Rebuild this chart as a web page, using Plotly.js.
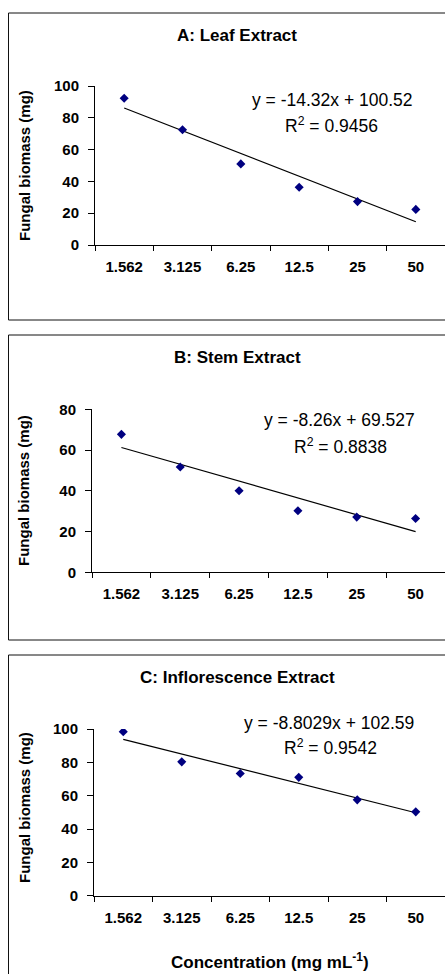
<!DOCTYPE html>
<html>
<head>
<meta charset="utf-8">
<script src="https://cdn.plot.ly/plotly-3.0.1.min.js"></script>
<style>
html,body{margin:0;padding:0;background:#fff;}
#chart{width:445px;height:974px;}
</style>
</head>
<body>
<div id="chart"></div>
<script>
// ---- Data ----
const concentrations = ["1.562", "3.125", "6.25", "12.5", "25", "50"];
const leafBiomass = [92.3, 72.5, 51, 36.3, 27.3, 22.4];
const stemBiomass = [67.7, 51.7, 40, 30.2, 27.1, 26.4];
const inflorescenceBiomass = [98.4, 80.3, 73.3, 71, 57.5, 50.3];
const panelTitles = ["A: Leaf Extract", "B: Stem Extract", "C: Inflorescence Extract"];
const trendSlopes = [-14.32, -8.26, -8.8029];
const trendIntercepts = [100.52, 69.527, 102.59];
const trendEquations = ["y = -14.32x + 100.52", "y = -8.26x + 69.527", "y = -8.8029x + 102.59"];
const rSquaredLabels = ["R<sup>2</sup> = 0.9456", "R<sup>2</sup> = 0.8838", "R<sup>2</sup> = 0.9542"];
const yTickValues = [[0, 20, 40, 60, 80, 100], [0, 20, 40, 60, 80], [0, 20, 40, 60, 80, 100]];
const yAxisMax = [100, 80, 100];
const yAxisLabel = "Fungal biomass (mg)";
const xAxisLabel = "Concentration (mg mL<sup>-1</sup>)";

// ---- Layout helpers (pixel -> paper) ----
const W = 445, H = 974;
const px = x => x / W;
const py = y => 1 - y / H;

const seriesList = [leafBiomass, stemBiomass, inflorescenceBiomass];

// panel geometry in pixels
const panels = [
  {x0: 95, x1: 445, yTop: 86, yBot: 245, boxTop: 13, boxBot: 320, titleY: 35, ytitleY: 166, eqX: 332, eqY: 100, r2X: 331, r2Y: 125},
  {x0: 92, x1: 445, yTop: 409.3, yBot: 572.3, boxTop: 335, boxBot: 640, titleY: 357, ytitleY: 491, eqX: 339, eqY: 420, r2X: 340, r2Y: 446},
  {x0: 94, x1: 445, yTop: 729, yBot: 895.7, boxTop: 655, boxBot: 1000, titleY: 677, ytitleY: 808, eqX: 329, eqY: 723, r2X: 330, r2Y: 747}
];

const FONT = "Liberation Sans, Arial, Helvetica, sans-serif";
const traces = [];
const layout = {
  width: W, height: H,
  margin: {l: 0, r: 0, t: 0, b: 0},
  paper_bgcolor: "#ffffff",
  plot_bgcolor: "rgba(0,0,0,0)",
  showlegend: false,
  font: {family: FONT, color: "#000"},
  annotations: [],
  shapes: []
};

panels.forEach((p, i) => {
  const n = i === 0 ? "" : String(i + 1);
  const xa = "x" + n, ya = "y" + n;
  const data = seriesList[i];
  // trendline from the displayed regression equation (x = 1..6)
  const trendY = concentrations.map((c, k) => trendSlopes[i] * (k + 1) + trendIntercepts[i]);
  traces.push({
    type: "scatter", mode: "lines", x: concentrations, y: trendY,
    xaxis: xa, yaxis: ya, line: {color: "#000", width: 1.2}, hoverinfo: "skip"
  });
  traces.push({
    type: "scatter", mode: "markers", x: concentrations, y: data,
    xaxis: xa, yaxis: ya,
    marker: {symbol: "diamond", size: 7, color: "#000080", line: {width: 0}}
  });

  layout["xaxis" + n] = {
    type: "category", domain: [px(p.x0), px(p.x1)], anchor: ya,
    range: [-0.5, 5.5], tickson: "boundaries",
    showline: true, linecolor: "#000", linewidth: 1,
    ticks: "outside", ticklen: 5, tickcolor: "#000", tickwidth: 1,
    showgrid: false, zeroline: false,
    ticklabelstandoff: 8,
    tickfont: {family: FONT, size: 15, color: "#000", weight: "bold"},
    fixedrange: true
  };
  layout["yaxis" + n] = {
    domain: [py(p.yBot), py(p.yTop)], anchor: xa,
    range: [0, yAxisMax[i]], tickvals: yTickValues[i],
    showline: true, linecolor: "#000", linewidth: 1,
    ticks: "outside", ticklen: 6, tickcolor: "#000", tickwidth: 1,
    showgrid: false, zeroline: false,
    ticklabelstandoff: 6,
    tickfont: {family: FONT, size: 15, color: "#000", weight: "bold"},
    fixedrange: true
  };

  // panel box
  layout.shapes.push({
    type: "rect", xref: "paper", yref: "paper",
    x0: px(8.5), x1: px(460), y0: py(p.boxBot), y1: py(p.boxTop),
    line: {color: "#111", width: 1}, fillcolor: "rgba(0,0,0,0)", layer: "below"
  });

  layout.annotations.push({
    xref: "paper", yref: "paper", x: px(237), y: py(p.titleY),
    text: "<b>" + panelTitles[i] + "</b>", showarrow: false,
    xanchor: "center", yanchor: "middle",
    font: {family: FONT, size: 17, color: "#000"}
  });
  layout.annotations.push({
    xref: "paper", yref: "paper", x: px(24), y: py(p.ytitleY),
    text: "<b>" + yAxisLabel + "</b>", showarrow: false, textangle: -90,
    xanchor: "center", yanchor: "middle",
    font: {family: FONT, size: 15, color: "#000"}
  });
  layout.annotations.push({
    xref: "paper", yref: "paper", x: px(p.eqX), y: py(p.eqY),
    text: trendEquations[i], showarrow: false,
    xanchor: "center", yanchor: "middle",
    font: {family: FONT, size: 17.5, color: "#000"}
  });
  layout.annotations.push({
    xref: "paper", yref: "paper", x: px(p.r2X), y: py(p.r2Y),
    text: rSquaredLabels[i], showarrow: false,
    xanchor: "center", yanchor: "middle",
    font: {family: FONT, size: 17.5, color: "#000"}
  });
});

layout.annotations.push({
  xref: "paper", yref: "paper", x: px(270), y: py(961),
  text: "<b>" + xAxisLabel + "</b>", showarrow: false,
  xanchor: "center", yanchor: "middle",
  font: {family: FONT, size: 17, color: "#000"}
});

Plotly.newPlot("chart", traces, layout, {displayModeBar: false, staticPlot: true});
</script>
</body>
</html>
